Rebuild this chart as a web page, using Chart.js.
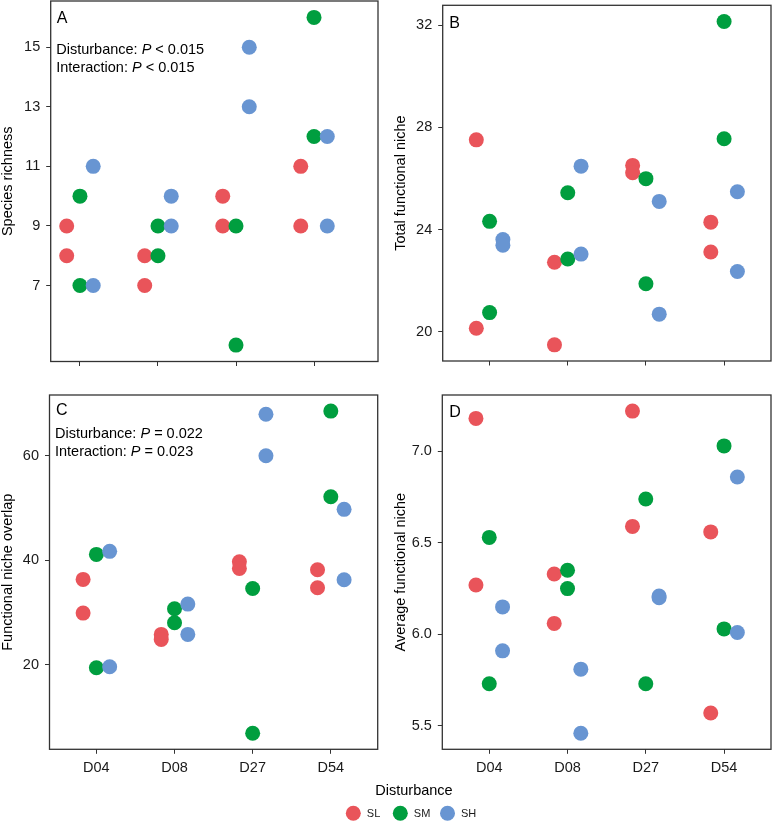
<!DOCTYPE html>
<html><head><meta charset="utf-8">
<script src="https://cdn.jsdelivr.net/npm/chart.js@4.4.1/dist/chart.umd.min.js"></script>
<style>
html,body{margin:0;padding:0;background:#fff;}
#wrap{position:relative;width:773px;height:822px;overflow:hidden;background:#fff;}
canvas{position:absolute;left:0;top:0;}
</style></head><body>
<div id="wrap">
<canvas id="cA" width="773" height="822"></canvas>
<canvas id="cB" width="773" height="822"></canvas>
<canvas id="cC" width="773" height="822"></canvas>
<canvas id="cD" width="773" height="822"></canvas>
</div>
<script>
// ---- data ----
const categories = ['D04', 'D08', 'D27', 'D54'];
const groups = ['SL', 'SM', 'SH'];

// A: Species richness (two replicates per disturbance level)
const richnessSL = [[9, 8], [8, 7], [10, 9], [11, 9]];
const richnessSM = [[10, 7], [9, 8], [9, 5], [16, 12]];
const richnessSH = [[11, 7], [10, 9], [15, 13], [12, 9]];
const richnessTicks = [7, 9, 11, 13, 15];

// B: Total functional niche
const totalSL = [[27.51, 20.14], [22.72, 19.49], [26.51, 26.22], [24.29, 23.12]];
const totalSM = [[24.32, 20.75], [25.44, 22.85], [25.99, 21.88], [32.14, 27.55]];
const totalSH = [[23.61, 23.39], [26.48, 23.04], [25.10, 20.69], [25.48, 22.36]];
const totalTicks = [20, 24, 28, 32];

// C: Functional niche overlap
const overlapSL = [[36.36, 29.91], [25.82, 24.86], [39.75, 38.47], [38.21, 34.76]];
const overlapSM = [[41.15, 19.43], [30.74, 28.05], [34.63, 6.9], [68.6, 52.2]];
const overlapSH = [[41.73, 19.62], [31.63, 25.82], [67.99, 60.06], [49.78, 36.3]];
const overlapTicks = [20, 40, 60];

// D: Average functional niche
const averageSL = [[7.18, 6.27], [6.33, 6.06], [7.22, 6.59], [6.56, 5.57]];
const averageSM = [[6.53, 5.73], [6.35, 6.25], [6.74, 5.73], [7.03, 6.03]];
const averageSH = [[6.15, 5.91], [5.81, 5.46], [6.21, 6.20], [6.86, 6.01]];
const averageTicks = [5.5, 6.0, 6.5, 7.0];

// ---- style ----
const COLORS = ['#E9545A', '#009E3F', '#6895D2'];
const DODGE = [-0.17, 0, 0.17];
const FONT = '"Liberation Sans", Arial, Helvetica, sans-serif';
const FS = 14.5;
const XH = 40;
const W = 773, H = 822;

function expand(series) {
  const all = series.flat(2);
  const mn = Math.min(...all), mx = Math.max(...all);
  const r = mx - mn;
  return [mn - 0.05 * r, mx + 0.05 * r];
}

function makeDatasets(series) {
  return series.map((vals, gi) => ({
    label: groups[gi],
    data: vals.flatMap((pair, ci) => pair.map(v => ({ x: ci + 1 + DODGE[gi], y: v }))),
    backgroundColor: COLORS[gi],
    borderWidth: 0,
    pointRadius: 7.5,
    pointHoverRadius: 7.5,
    order: 2 - gi
  }));
}

function drawRich(ctx, parts, x, y) {
  let cx = x;
  parts.forEach(p => {
    ctx.font = (p.i ? 'italic ' : '') + FS + 'px ' + FONT;
    ctx.fillText(p.t, cx, y);
    cx += ctx.measureText(p.t).width;
  });
}

function makePanel(id, cfg) {
  const [yMin, yMax] = expand(cfg.series);
  const a = cfg.area;
  const frame = {
    id: 'frame' + id,
    afterDatasetsDraw(chart) {
      const ctx = chart.ctx, ca = chart.chartArea;
      ctx.save();
      ctx.strokeStyle = '#333';
      ctx.lineWidth = 1.3;
      ctx.strokeRect(ca.left, ca.top, ca.right - ca.left, ca.bottom - ca.top);
      ctx.restore();
    },
    afterDraw(chart) {
      const ctx = chart.ctx, ca = chart.chartArea;
      ctx.save();
      ctx.fillStyle = '#000';
      ctx.textBaseline = 'alphabetic';
      ctx.textAlign = 'left';
      ctx.font = '16px ' + FONT;
      ctx.fillText(cfg.letter, ca.left + cfg.letterDx, ca.top + cfg.letterDy);
      (cfg.notes || []).forEach((parts, i) => {
        drawRich(ctx, parts, ca.left + 5.5, ca.top + cfg.noteDy + i * 17.5);
      });
      if (cfg.extra) cfg.extra(ctx);
      ctx.restore();
    }
  };
  return new Chart(document.getElementById(id), {
    type: 'scatter',
    data: { datasets: makeDatasets(cfg.series) },
    options: {
      responsive: false,
      animation: false,
      devicePixelRatio: 1,
      events: [],
      layout: { autoPadding: false, padding: { left: a.padLeft, top: a.top, right: W - a.right, bottom: H - a.bottom - XH } },
      plugins: { legend: { display: false }, tooltip: { enabled: false } },
      scales: {
        x: {
          type: 'linear', position: 'bottom', min: cfg.xMin, max: cfg.xMax,
          afterBuildTicks: s => { s.ticks = categories.map((c, i) => ({ value: i + 1 })); },
          afterFit: s => { s.height = XH; s.paddingLeft = 0; s.paddingRight = 0; s.paddingTop = 0; s.paddingBottom = 0; },
          ticks: {
            display: cfg.showX, autoSkip: false, maxRotation: 0, padding: 5,
            callback: v => categories[Math.round(v) - 1],
            font: { family: FONT, size: FS }, color: '#1a1a1a'
          },
          grid: { drawOnChartArea: false, drawTicks: true, tickLength: 4.5, color: '#333', lineWidth: 1 },
          border: { display: false }
        },
        y: {
          type: 'linear', position: 'left', min: yMin, max: yMax,
          afterBuildTicks: s => { s.ticks = cfg.yTicks.map(v => ({ value: v })); },
          afterFit: s => { s.width = a.left - a.padLeft; s.paddingLeft = 0; s.paddingRight = 0; s.paddingTop = 0; s.paddingBottom = 0; },
          ticks: {
            padding: 6, autoSkip: false,
            callback: v => cfg.fmt(v),
            font: { family: FONT, size: FS }, color: '#1a1a1a'
          },
          grid: { drawOnChartArea: false, drawTicks: true, tickLength: 4.5, color: '#333', lineWidth: 1 },
          border: { display: false },
          title: {
            display: true, text: cfg.yTitle, color: '#000',
            font: { family: FONT, size: FS, lineHeight: 1 },
            padding: { top: cfg.titlePad, bottom: 0 }
          }
        }
      }
    },
    plugins: [frame]
  });
}

const intFmt = v => String(v);

makePanel('cA', {
  series: [richnessSL, richnessSM, richnessSH], yTicks: richnessTicks, fmt: intFmt,
  yTitle: 'Species richness', xMin: 0.625, xMax: 4.82, showX: false,
  area: { padLeft: 0, left: 50.7, right: 378, top: 1, bottom: 361.5 }, titlePad: 1,
  letter: 'A', letterDx: 6, letterDy: 21.7, noteDy: 53,
  notes: [
    [{ t: 'Disturbance: ' }, { t: 'P', i: true }, { t: ' < 0.015' }],
    [{ t: 'Interaction: ' }, { t: 'P', i: true }, { t: ' < 0.015' }]
  ]
});

makePanel('cB', {
  series: [totalSL, totalSM, totalSH], yTicks: totalTicks, fmt: intFmt,
  yTitle: 'Total functional niche', xMin: 0.4, xMax: 4.6, showX: false,
  area: { padLeft: 385, left: 442.7, right: 771, top: 5.3, bottom: 361 }, titlePad: 8.75,
  letter: 'B', letterDx: 6.6, letterDy: 23
});

makePanel('cC', {
  series: [overlapSL, overlapSM, overlapSH], yTicks: overlapTicks, fmt: intFmt,
  yTitle: 'Functional niche overlap', xMin: 0.4, xMax: 4.6, showX: true,
  area: { padLeft: 0, left: 49.5, right: 377.7, top: 395, bottom: 749.3 }, titlePad: 1,
  letter: 'C', letterDx: 6.5, letterDy: 20, noteDy: 43,
  notes: [
    [{ t: 'Disturbance: ' }, { t: 'P', i: true }, { t: ' = 0.022' }],
    [{ t: 'Interaction: ' }, { t: 'P', i: true }, { t: ' = 0.023' }]
  ],
  extra: ctx => {
    ctx.font = FS + 'px ' + FONT;
    ctx.textAlign = 'center';
    ctx.fillStyle = '#000';
    ctx.fillText('Disturbance', 414, 794.5);
    const lx = [353.3, 400.3, 447.5];
    groups.forEach((g, i) => {
      ctx.beginPath();
      ctx.fillStyle = COLORS[i];
      ctx.arc(lx[i], 813.3, 7.5, 0, Math.PI * 2);
      ctx.fill();
      ctx.fillStyle = '#1a1a1a';
      ctx.font = '11px ' + FONT;
      ctx.textAlign = 'left';
      ctx.fillText(g, lx[i] + 13.5, 817.3);
    });
  }
});

makePanel('cD', {
  series: [averageSL, averageSM, averageSH], yTicks: averageTicks, fmt: v => v.toFixed(1),
  yTitle: 'Average functional niche', xMin: 0.4, xMax: 4.6, showX: true,
  area: { padLeft: 385, left: 442.3, right: 771, top: 395, bottom: 749.3 }, titlePad: 8.75,
  letter: 'D', letterDx: 7, letterDy: 21.7
});
</script>
</body></html>
